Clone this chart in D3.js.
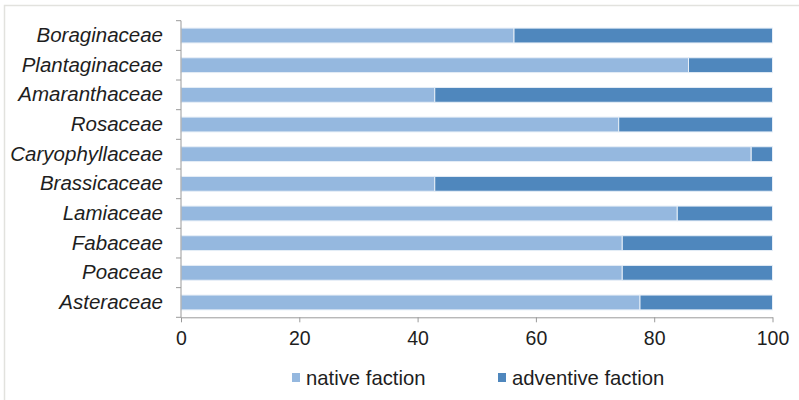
<!DOCTYPE html>
<meta charset="utf-8">
<head>
  <title>Native vs adventive faction</title>
</head>
<style>
body { margin: 0; background: #fff; }
svg { display: block; font-family: "Liberation Sans", Arial, sans-serif; }
.axis path, .axis line { stroke: #9a9a9a; }
.axis text { fill: #1e1e1e; }
</style>
<body>
<svg width="799" height="400"></svg>
<script src="https://cdnjs.cloudflare.com/ajax/libs/d3/7.8.5/d3.min.js"></script>
<script>
var families = ["Boraginaceae", "Plantaginaceae", "Amaranthaceae", "Rosaceae", "Caryophyllaceae",
                "Brassicaceae", "Lamiaceae", "Fabaceae", "Poaceae", "Asteraceae"];
var nativeFaction    = [56.3, 85.8, 42.9, 74.0, 96.4, 42.9, 83.9, 74.6, 74.6, 77.6];
var adventiveFaction = [43.7, 14.2, 57.1, 26.0,  3.6, 57.1, 16.1, 25.4, 25.4, 22.4];
var xTicks = [0, 20, 40, 60, 80, 100];
var seriesNames = ["native faction", "adventive faction"];
var colors = ["#95b8df", "#4f87bd"];

var svg = d3.select("svg");

// frame (only top and left visible in the original)
svg.append("path")
  .attr("d", "M4.5,400V5.5H799")
  .attr("fill", "none")
  .attr("stroke", "#e2e2de")
  .attr("stroke-width", 1.5);

var x = d3.scaleLinear().domain([0, 100]).range([181, 772.5]);
var y = d3.scaleBand().domain(families).range([20.7, 317.3]).paddingInner(0.5).paddingOuter(0.25);

var rows = families.map(function(f, i) {
  return { family: f, native: nativeFaction[i], adventive: adventiveFaction[i] };
});
var stack = d3.stack().keys(["native", "adventive"]);
var layers = stack(rows);

svg.selectAll("g.layer")
  .data(layers)
  .enter().append("g")
  .attr("class", "layer")
  .attr("fill", function(d, i) { return colors[i]; })
  .selectAll("rect")
  .data(function(d) { return d; })
  .enter().append("rect")
  .attr("x", function(d) { return x(d[0]); })
  .attr("width", function(d) { return x(d[1]) - x(d[0]); })
  .attr("y", function(d) { return y(d.data.family); })
  .attr("height", y.bandwidth())
  .attr("stroke", "#e6eef7")
  .attr("stroke-width", 1);

// y axis
var yAxis = svg.append("g")
  .attr("class", "axis")
  .attr("transform", "translate(181,0)")
  .call(d3.axisLeft(y).tickSize(0).tickPadding(18));
yAxis.selectAll("text")
  .attr("font-size", 20.5)
  .attr("font-style", "italic");
// band boundary ticks like Excel
var yEdges = families.map(function(f) { return y(f) - y.step() * y.paddingInner() / 2; });
yEdges.push(317.3);
yAxis.selectAll("line.edge")
  .data(yEdges)
  .enter().append("line")
  .attr("class", "edge")
  .attr("x1", -5).attr("x2", 0)
  .attr("y1", function(d) { return d; })
  .attr("y2", function(d) { return d; });
yAxis.select("path.domain").remove();
yAxis.append("line")
  .attr("x1", 0).attr("x2", 0)
  .attr("y1", 20.7).attr("y2", 317.3);

// x axis
var xAxis = svg.append("g")
  .attr("class", "axis")
  .attr("transform", "translate(0,317.3)")
  .call(d3.axisBottom(x).tickValues(xTicks).tickSize(5).tickSizeOuter(0).tickPadding(9));
xAxis.selectAll("text").attr("font-size", 19.5);

// legend
var legendX = [292, 498];
var legend = svg.selectAll("g.legend")
  .data(seriesNames)
  .enter().append("g")
  .attr("class", "legend")
  .attr("transform", function(d, i) { return "translate(" + legendX[i] + ",373)"; });
legend.append("rect")
  .attr("width", 8).attr("height", 9)
  .attr("fill", function(d, i) { return colors[i]; });
legend.append("text")
  .attr("x", 14).attr("y", 11.5)
  .attr("font-size", 20.3)
  .attr("fill", "#1e1e1e")
  .text(function(d) { return d; });
</script>
</body>
</html>
